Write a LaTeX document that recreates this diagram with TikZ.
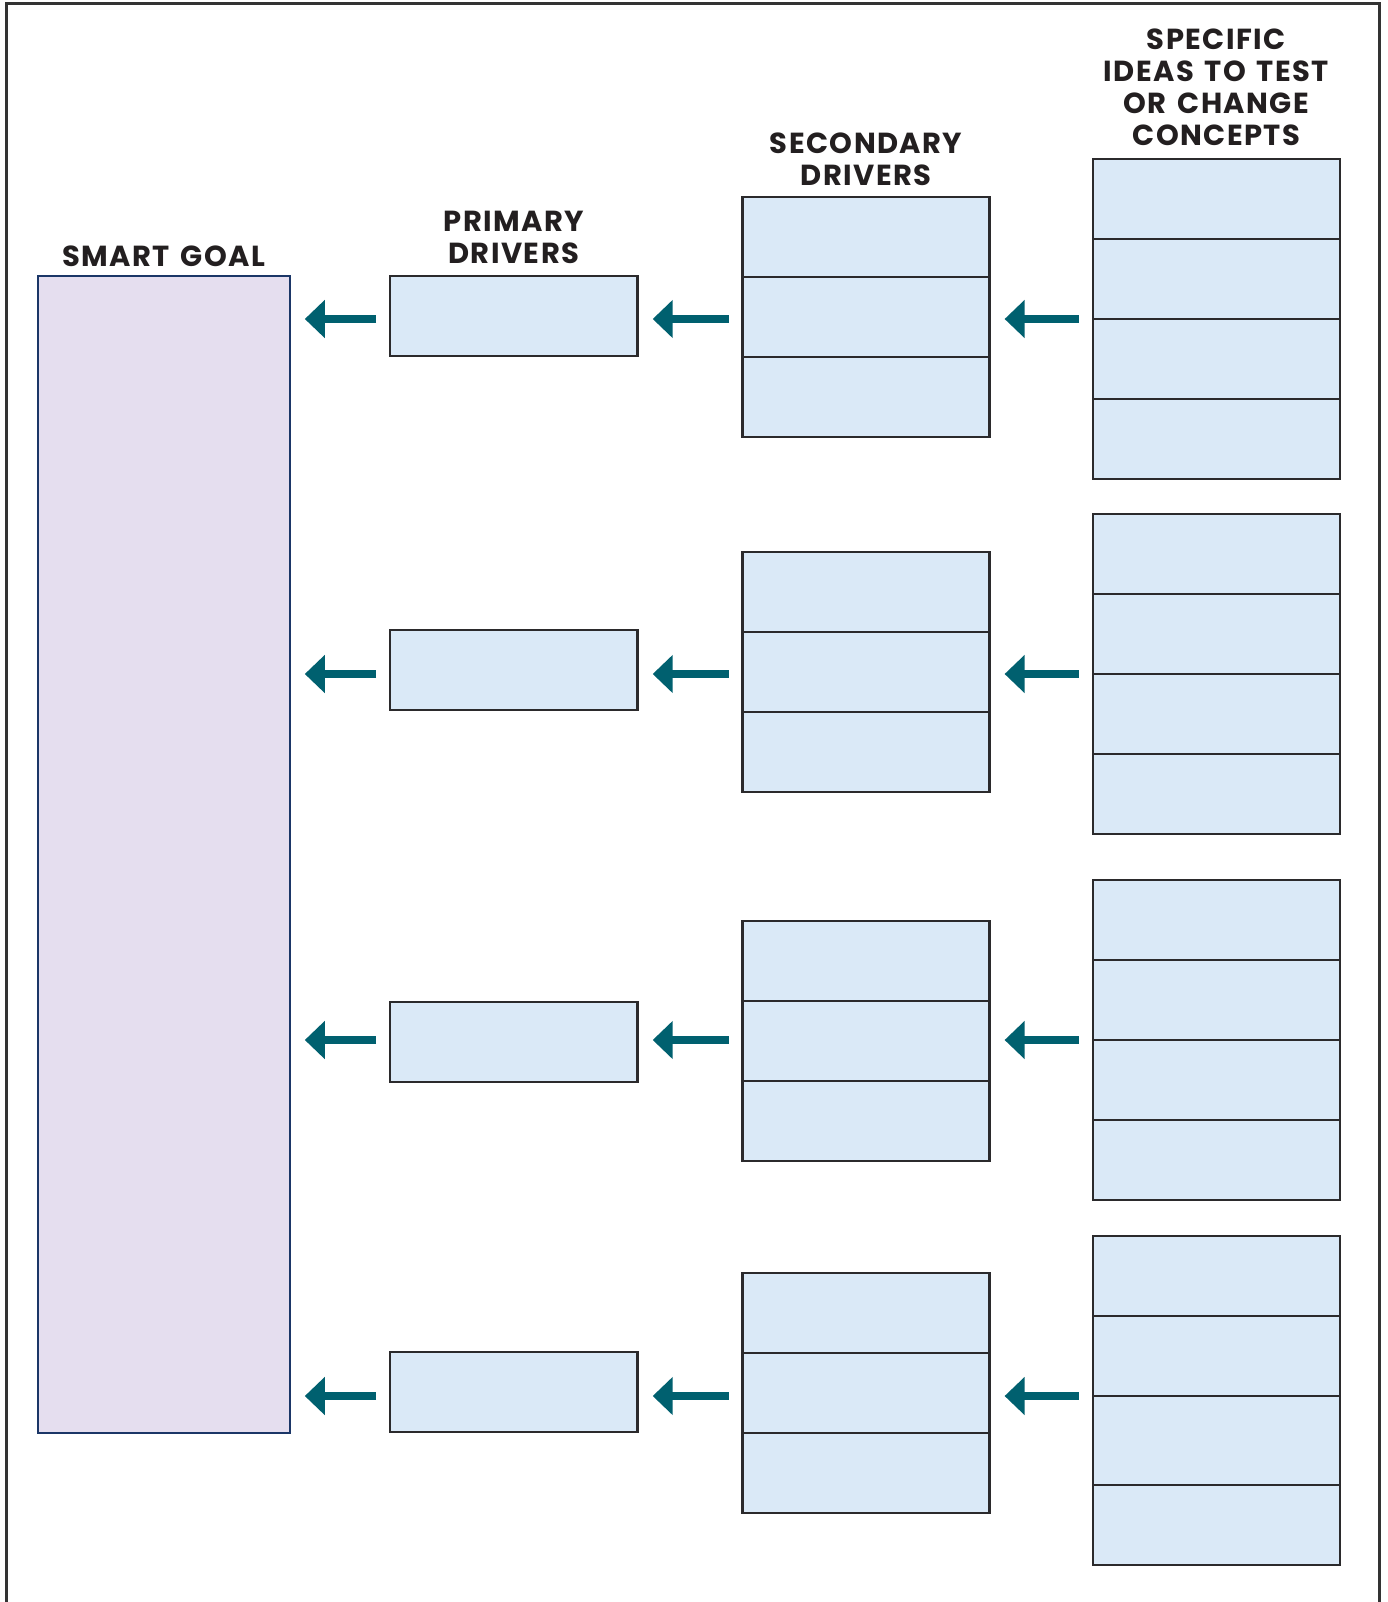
\documentclass[tikz,border=0pt]{standalone}
\usepackage{fontspec}
\setmainfont{Poppins}
\newfontfamily\headfont{Poppins}[LetterSpace=5, WordSpace=1.4]
\usetikzlibrary{arrows.meta}
\definecolor{cellblue}{HTML}{DAE9F7}
\definecolor{goalfill}{HTML}{E5DEEF}
\definecolor{goalline}{HTML}{1B3667}
\definecolor{boxline}{HTML}{2B2A2C}
\definecolor{arrowteal}{HTML}{00606F}
\definecolor{ink}{HTML}{231F20}
\definecolor{framegray}{HTML}{333333}
\tikzset{
  cell/.style={draw=boxline, fill=cellblue, line width=2.6pt, minimum width=247pt,
    minimum height=80pt, anchor=north west, inner sep=0pt, outer sep=0pt},
  goalbox/.style={draw=goalline, fill=goalfill, line width=2.4pt, anchor=north west,
    inner sep=0pt, outer sep=0pt},
  arr/.style={draw=arrowteal, line width=7.3pt, -{Triangle[length=20pt,width=37pt]},
    shorten <=14pt, shorten >=15pt},
  head/.style={font=\headfont\bfseries\fontsize{29}{32}\selectfont, text=ink, align=center,
    anchor=south, inner sep=0pt, text depth=0pt},
  frameline/.style={draw=framegray, line width=3pt}
}
\begin{document}
\begin{tikzpicture}[x=1pt,y=-1pt]
\useasboundingbox (0,0) rectangle (1387,1602);
\fill[white] (0,0) rectangle (1387,1602);
\draw[frameline] (6,1602) -- (6,4) -- (1379,4) -- (1379,1602);

\node[goalbox, minimum width=252pt, minimum height=1157pt] (goal) at (37.8,276) {};

\foreach \r/\pt/\st/\it/\ih in {1/276/197/159/80, 2/630/552/514/80, 3/1002/921/880/80, 4/1352/1273/1236/89}{
  \node[cell, minimum width=247.7pt] (p\r) at (390,\pt) {};
  \node[cell] (sa\r) at (742.6,\st) {};
  \node[cell] (sb\r) at (742.6,{\st+80}) {};
  \node[cell] (sc\r) at (742.6,{\st+160}) {};
  \node[cell] (ia\r) at (1092.9,\it) {};
  \node[cell] (ib\r) at (1092.9,{\it+80}) {};
  \node[cell, minimum height=\ih pt] (ic\r) at (1092.9,{\it+160}) {};
  \node[cell] (id\r) at (1092.9,{\it+160+\ih}) {};
  \draw[arr] (ib\r.south west) -- (ib\r.south west -| sb\r.east);
  \draw[arr] (sb\r.west |- ib\r.south) -- (p\r.east |- ib\r.south);
  \draw[arr] (p\r.west |- ib\r.south) -- (goal.east |- ib\r.south);
}

\node[head] (tgoal) at ([yshift=9.5pt]goal.north) {SMART GOAL};
\node[head] (tprim) at ([yshift=12.5pt]p1.north) {PRIMARY\\DRIVERS};
\node[head] (tsec) at ([yshift=11pt]sa1.north) {SECONDARY\\DRIVERS};
\node[head] (tidea) at ([yshift=13pt]ia1.north) {SPECIFIC\\IDEAS TO TEST\\OR CHANGE\\CONCEPTS};
\end{tikzpicture}
\end{document}
